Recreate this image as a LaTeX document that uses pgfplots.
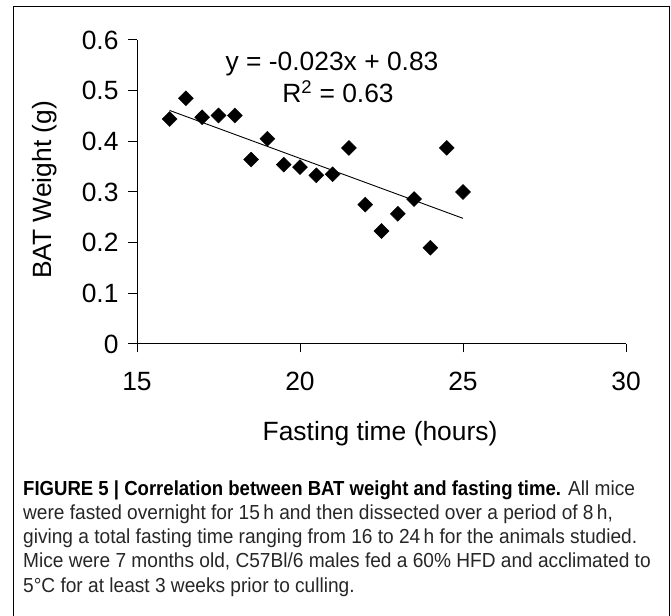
\documentclass[border=0pt]{standalone}
\usepackage{fontspec}
\setmainfont{Liberation Sans}
\newfontfamily\capfont[FakeStretch=0.94, BoldFeatures={FakeStretch=0.913}]{Liberation Sans}
\usepackage{pgfplots}
\pgfplotsset{compat=1.18}
\begin{document}
\begin{tikzpicture}
\useasboundingbox (0bp,0bp) rectangle (671bp,616bp);
\draw[line width=1bp] (13.3bp,0bp) -- (13.3bp,609bp) -- (669.5bp,609bp) -- (669.5bp,0bp);
\begin{axis}[
  at={(137bp,272bp)}, anchor=south west,
  scale only axis, width=489bp, height=304bp,
  xmin=15, xmax=30, ymin=0, ymax=0.6,
  axis lines=left, axis line style={-, line width=1bp, black},
  tick align=outside, major tick length=8.5bp,
  tick style={line width=1bp, black},
  xtick={15,20,25,30}, ytick={0,0.1,0.2,0.3,0.4,0.5,0.6},
  yticklabel style={/pgf/number format/fixed, /pgf/number format/precision=1, xshift=-6.5bp},
  xticklabel style={yshift=-16.5bp},
  /pgf/number format/assume math mode=true,
  tick label style={font=\fontsize{26.5}{31}\selectfont},
  label style={font=\fontsize{26.5}{31}\selectfont},
  xlabel={Fasting time (hours)},
  xlabel style={at={(axis description cs:0.497,-0.3158)}, anchor=base},
  ylabel={BAT Weight (g)},
  ylabel style={at={(axis description cs:-0.174,0.5066)}, anchor=base, rotate=0},
  clip=false,
]
\addplot[only marks, mark=square*, mark size=5.3bp, mark options={rotate=45, fill=black, draw=black}] coordinates {
(16,0.444) (16.5,0.485) (17,0.4475) (17.5,0.451) (18,0.451) (18.5,0.364) (19,0.405)
(19.5,0.354) (20,0.349) (20.5,0.333) (21,0.335) (21.5,0.387) (22,0.275) (22.5,0.223)
(23,0.257) (23.5,0.286) (24,0.190) (24.5,0.387) (25,0.300)
};
\addplot[black, line width=0.9bp] coordinates {(16,0.461) (25,0.248)};
\end{axis}
\node[anchor=base, font=\fontsize{26.5}{31}\selectfont, inner sep=1bp] at (332bp,545bp) {y = -0.023x + 0.83};
\node[anchor=base, font=\fontsize{26.5}{31}\selectfont, inner sep=1bp] at (338bp,513bp) {R\textsuperscript{2} = 0.63};
\begin{scope}[every node/.style={anchor=base west, inner sep=0pt, font=\capfont\fontsize{20.4}{24}\selectfont, text=black!85}]
\node at (23bp,120bp) {{\bfseries\color{black}FIGURE 5 | Correlation between BAT weight and fasting time.} All mice};
\node at (23bp,96bp) {were fasted overnight for 15\,h and then dissected over a period of 8\,h,};
\node at (23bp,72bp) {giving a total fasting time ranging from 16 to 24\,h for the animals studied.};
\node at (23bp,48bp) {Mice were 7 months old, C57Bl/6 males fed a 60\% HFD and acclimated to};
\node at (23bp,24bp) {5°C for at least 3 weeks prior to culling.};
\end{scope}
\end{tikzpicture}
\end{document}
